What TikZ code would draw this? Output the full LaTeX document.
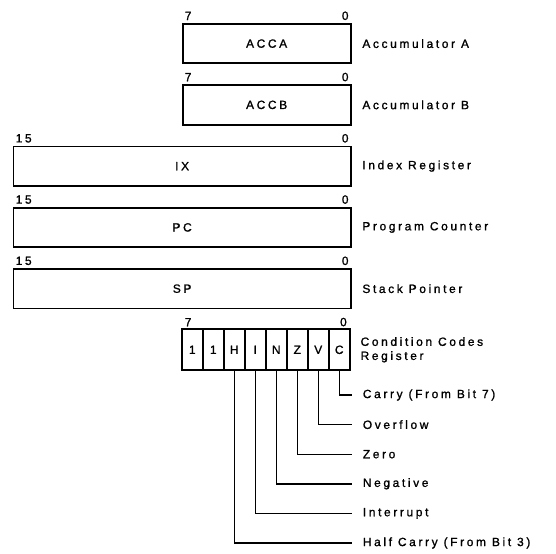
\documentclass[tikz,border=0pt]{standalone}
\usepackage{fontspec}
\newfontfamily\regfont{Liberation Sans}[LetterSpace=22, FakeBold=1.2]
\usepackage{tikz}
\usetikzlibrary{positioning}

\begin{document}
\begin{tikzpicture}[line width=1pt, font=\regfont\fontsize{6.8}{8}\selectfont,
            reg/.style={draw, minimum height=0.79cm, inner sep=0pt},
            bit/.style={draw, minimum width=0.42cm, minimum height=0.82cm, inner sep=0pt, outer sep=0pt},
            num/.style={inner sep=1.2pt},
            desc/.style={inner sep=0pt, anchor=west, align=left},
            flag/.style={line width=0.8pt}]

        \useasboundingbox (0,0) rectangle (11.12,-11.06);

        % --- Registers ---
        \node[reg, minimum width=3.36cm, anchor=north east] (accA) at (7.03,-0.46) {ACCA};
        \node[reg, minimum width=3.36cm, below=0.4cm of accA.south east, anchor=north east] (accB) {ACCB};
        \node[reg, minimum width=6.74cm, below=0.4cm of accB.south east, anchor=north east] (ix) {IX};
        \node[reg, minimum width=6.74cm, below=0.4cm of ix.south east, anchor=north east] (pc) {PC};
        \node[reg, minimum width=6.74cm, below=0.4cm of pc.south east, anchor=north east] (sp) {SP};

        % --- Condition codes ---
        \node[bit, below=0.4cm of sp.south -| accA.west, anchor=north west] (b7) {1};
        \node[bit, right=0pt of b7] (b6) {1};
        \node[bit, right=0pt of b6] (b5) {H};
        \node[bit, right=0pt of b5] (b4) {I};
        \node[bit, right=0pt of b4] (b3) {N};
        \node[bit, right=0pt of b3] (b2) {Z};
        \node[bit, right=0pt of b2] (b1) {V};
        \node[bit, right=0pt of b1] (b0) {C};

        % --- Bit numbers ---
        \node[num, above right] at (accA.north west) {7};
        \node[num, above left]  at (accA.north east) {0};
        \node[num, above right] at (accB.north west) {7};
        \node[num, above left]  at (accB.north east) {0};
        \node[num, above right] at (ix.north west) {15};
        \node[num, above left]  at (ix.north east) {0};
        \node[num, above right] at (pc.north west) {15};
        \node[num, above left]  at (pc.north east) {0};
        \node[num, above right] at (sp.north west) {15};
        \node[num, above left]  at (sp.north east) {0};
        \node[num, above right] at (b7.north west) {7};
        \node[num, above left]  at (b0.north east) {0};

        % --- Register names ---
        \node[desc, right=0.2cm of accA] {Accumulator A};
        \node[desc, right=0.2cm of accB] {Accumulator B};
        \node[desc, right=0.2cm of ix] {Index Register};
        \node[desc, right=0.2cm of pc] {Program Counter};
        \node[desc, right=0.2cm of sp] {Stack Pointer};
        \node[desc, right=0.2cm of b0] {Condition Codes\\Register};

        % --- Flag names ---
        \node[desc] (carry) at (7.24,-7.9)   {Carry (From Bit 7)};
        \node[desc] (ovf)   at (7.24,-8.492) {Overflow};
        \node[desc] (zero)  at (7.24,-9.084) {Zero};
        \node[desc] (neg)   at (7.24,-9.676) {Negative};
        \node[desc] (intr)  at (7.24,-10.268) {Interrupt};
        \node[desc] (half)  at (7.24,-10.86) {Half Carry (From Bit 3)};

        \draw[flag] (b0.south) |- ([xshift=-0.2cm]carry.west);
        \draw[flag] (b1.south) |- ([xshift=-0.2cm]ovf.west);
        \draw[flag] (b2.south) |- ([xshift=-0.2cm]zero.west);
        \draw[flag] (b3.south) |- ([xshift=-0.2cm]neg.west);
        \draw[flag] (b4.south) |- ([xshift=-0.2cm]intr.west);
        \draw[flag] (b5.south) |- ([xshift=-0.2cm]half.west);

    \end{tikzpicture}
\end{document}
